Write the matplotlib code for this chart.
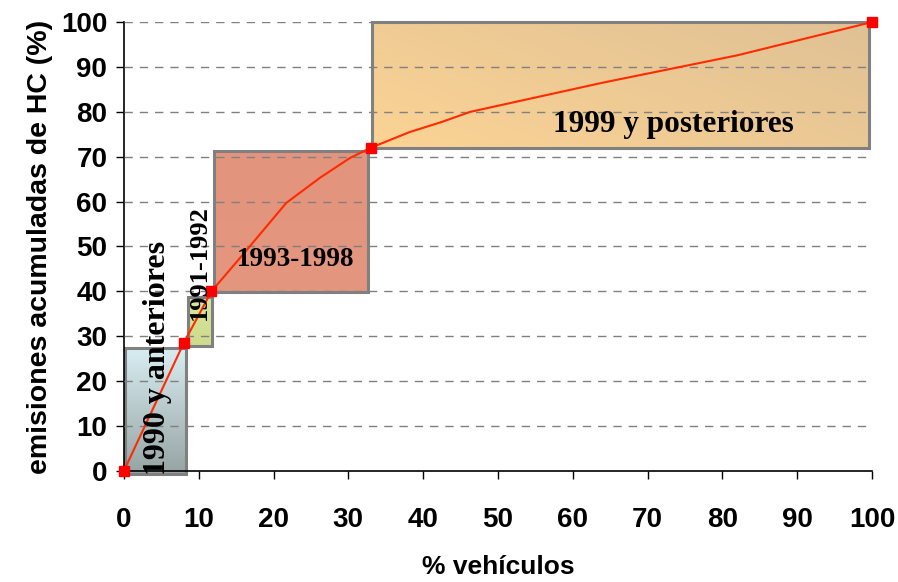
import numpy as np
import matplotlib.pyplot as plt
from matplotlib.patches import Rectangle

# cumulative curve (% vehicles vs % HC emissions)
veh = [0, 8.0, 11.7, 15.5, 21.7, 26.2, 30.2, 33.0, 38.2, 42.4, 46.3, 64.0, 82.0, 100]
emi = [0, 28.5, 40.0, 47.4, 59.7, 65.3, 69.7, 72.0, 75.5, 77.7, 80.0, 86.5, 92.6, 100]
# cohort break points (shown as markers)
break_veh = [0, 8.0, 11.7, 33.0, 100]
break_emi = [0, 28.5, 40.0, 72.0, 100]

# cohort boxes: label, x0, x1, y0, y1
groups = ['1990 y anteriores', '1991-1992', '1993-1998', '1999 y posteriores']
box_x0 = [0.1, 8.5, 12.0, 33.2]
box_x1 = [8.3, 11.8, 32.6, 99.6]
box_y0 = [-0.7, 27.8, 39.9, 72.0]
box_y1 = [27.4, 38.8, 71.3, 100.0]

ticks = list(range(0, 101, 10))

fig = plt.figure(figsize=(8.98, 5.82), dpi=100)
ax = fig.add_axes([0.138, 0.191, 0.833, 0.771])

# gradient colours for each box (top colour, bottom colour)
box_colors = [('#d8edf2', '#97a4a4'), ('#d7e69e', '#cfdb8c'),
              ('#e3947c', '#e3967e'), ('#e0c194', '#fbd394')]

for i in range(len(groups)):
    top, bot = box_colors[i]
    c_top = np.array(plt.matplotlib.colors.to_rgb(top))
    c_bot = np.array(plt.matplotlib.colors.to_rgb(bot))
    if i == 3:
        # diagonal-ish gradient: lighter bottom-left, darker top-right
        xx, yy = np.meshgrid(np.linspace(0, 1, 50), np.linspace(0, 1, 50))
        t = np.clip(0.6 * xx + 0.4 * yy, 0, 1)[..., None]
    else:
        t = np.linspace(0, 1, 50)[:, None, None] * np.ones((50, 2, 1))
    img = c_bot * (1 - t) + c_top * t
    ax.imshow(img, extent=[box_x0[i], box_x1[i], box_y0[i], box_y1[i]],
              origin='lower', aspect='auto', zorder=1, clip_on=False)
    ax.add_patch(Rectangle((box_x0[i], box_y0[i]), box_x1[i] - box_x0[i],
                           box_y1[i] - box_y0[i], fill=False, edgecolor='#808080',
                           linewidth=2.2, zorder=2, clip_on=False))

ax.set_xlim(0, 100)
ax.set_ylim(0, 100)

# dashed grid
for yv in ticks[1:]:
    ax.axhline(yv, color='#808080', linestyle=(0, (6, 5)), linewidth=1, zorder=3)

ax.plot(veh, emi, color='#ff2a00', linewidth=1.5, zorder=4, clip_on=False)
ax.plot(break_veh, break_emi, linestyle='none', marker='s', markersize=7,
        color='#ff0000', zorder=5, clip_on=False)

serif = 'Liberation Serif'
ax.text(4.5, 25.2, groups[0], rotation=90, ha='center', va='center',
        fontsize=23, fontweight='bold', family=serif, zorder=6)
ax.text(10.1, 46.5, groups[1], rotation=90, ha='center', va='center',
        fontsize=19, fontweight='bold', family=serif, zorder=6)
ax.text(22.9, 47.0, groups[2], ha='center', va='center',
        fontsize=19.5, fontweight='bold', family=serif, zorder=6)
ax.text(73.5, 77.2, groups[3], ha='center', va='center',
        fontsize=22.5, fontweight='bold', family=serif, zorder=6)

sans = 'Liberation Sans'
ax.set_xticks(ticks)
ax.set_yticks(ticks)
ax.set_xticklabels([str(t) for t in ticks], fontsize=20, fontweight='bold', family=sans)
ax.set_yticklabels([str(t) for t in ticks], fontsize=20, fontweight='bold', family=sans)
ax.tick_params(direction='out', length=6, width=1)
ax.tick_params(axis='x', pad=20)
ax.tick_params(axis='y', pad=6)
ax.set_xlabel('% vehículos', fontsize=19, fontweight='bold', family=sans, labelpad=16)
ax.set_ylabel('emisiones acumuladas de HC (%)', fontsize=20.5, fontweight='bold',
              family=sans, labelpad=6)

ax.spines['top'].set_visible(False)
ax.spines['right'].set_visible(False)
ax.spines['left'].set_linewidth(1.2)
ax.spines['bottom'].set_linewidth(1.2)

fig.savefig('out.png', dpi=100)
